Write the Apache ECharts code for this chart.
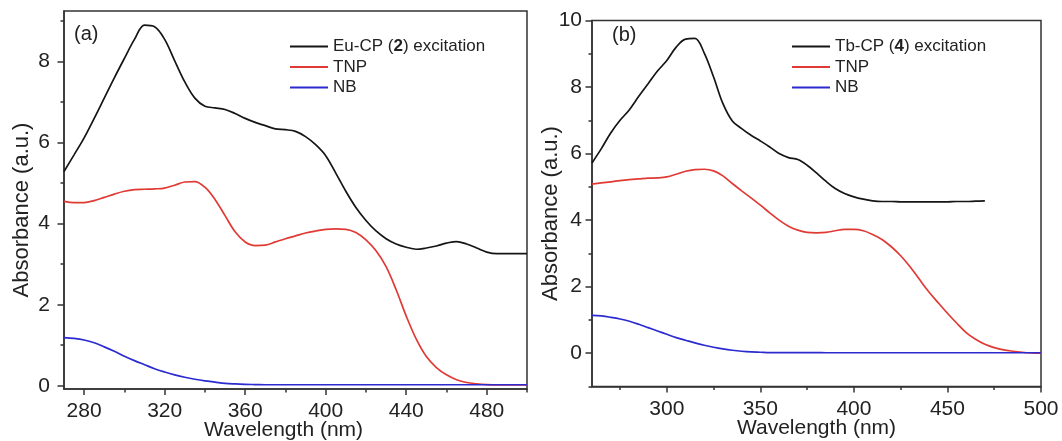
<!DOCTYPE html>
<html>
<head>
<meta charset="utf-8">
<script src="https://cdn.jsdelivr.net/npm/echarts@6/dist/echarts.min.js"></script>
<style>
html,body{margin:0;padding:0;background:#fff;}
#chart{width:1062px;height:441px;}
</style>
</head>
<body>
<div id="chart"></div>
<script>
// ---------- Panel (a) data ----------
const waveA = [270,275,280,285,290,295,300,305,310,315,320,325,330,335,340,345,350,355,360,365,370,375,380,385,390,395,400,405,410,415,420,425,430,435,440,445,450,455,460,465,470,475,480,485,490,495,500];
const euExcA = [5.29,5.70,6.12,6.60,7.10,7.60,8.08,8.55,8.90,8.86,8.55,8.02,7.50,7.10,6.90,6.86,6.82,6.72,6.60,6.50,6.42,6.34,6.32,6.28,6.15,5.95,5.68,5.25,4.80,4.40,4.08,3.82,3.63,3.50,3.42,3.37,3.40,3.45,3.52,3.56,3.50,3.40,3.30,3.26,3.26,3.26,3.26];
const tnpA = [4.55,4.52,4.52,4.57,4.65,4.73,4.80,4.84,4.85,4.86,4.88,4.95,5.03,5.04,4.90,4.60,4.20,3.80,3.55,3.46,3.47,3.55,3.63,3.70,3.77,3.82,3.86,3.87,3.86,3.78,3.60,3.33,2.94,2.37,1.72,1.15,0.72,0.45,0.27,0.15,0.08,0.05,0.03,0.02,0.02,0.02,0.02];
const nbA = [1.19,1.17,1.13,1.06,0.96,0.85,0.73,0.62,0.52,0.42,0.34,0.27,0.21,0.16,0.12,0.09,0.06,0.045,0.035,0.03,0.025,0.025,0.025,0.025,0.025,0.025,0.025,0.025,0.025,0.025,0.025,0.025,0.025,0.025,0.025,0.025,0.025,0.025,0.025,0.025,0.025,0.025,0.025,0.025,0.025,0.025,0.025];

// ---------- Panel (b) data ----------
const waveB = [260,265,270,275,280,285,290,295,300,305,310,315,320,325,330,335,340,345,350,355,360,365,370,375,380,385,390,395,400,405,410,415,420,425,430,435,440,445,450,455,460,465,470,475,480,485,490,495,500];
const waveBExc = [260,265,270,275,280,285,290,295,300,305,310,315,320,325,330,335,340,345,350,355,360,365,370,375,380,385,390,395,400,405,410,415,420,425,430,435,440,445,450,455,460,465,470];
const tbExcB = [5.72,6.15,6.62,7.00,7.32,7.72,8.10,8.48,8.80,9.20,9.44,9.46,9.02,8.30,7.50,6.98,6.75,6.55,6.38,6.20,6.00,5.88,5.82,5.65,5.42,5.17,4.95,4.80,4.70,4.63,4.58,4.56,4.56,4.55,4.55,4.55,4.55,4.55,4.55,4.56,4.56,4.57,4.58];
const tnpB = [5.08,5.12,5.15,5.19,5.22,5.24,5.26,5.27,5.30,5.38,5.47,5.52,5.53,5.48,5.33,5.10,4.88,4.67,4.45,4.22,4.00,3.82,3.70,3.63,3.62,3.63,3.68,3.72,3.72,3.68,3.57,3.42,3.20,2.93,2.60,2.22,1.85,1.52,1.20,0.90,0.62,0.42,0.27,0.17,0.10,0.06,0.03,0.01,0.00];
const nbB = [1.14,1.12,1.08,1.03,0.96,0.87,0.77,0.67,0.57,0.47,0.39,0.31,0.24,0.18,0.13,0.09,0.06,0.04,0.03,0.02,0.02,0.02,0.02,0.02,0.02,0.015,0.015,0.015,0.015,0.015,0.015,0.015,0.015,0.015,0.015,0.015,0.015,0.015,0.015,0.015,0.015,0.015,0.015,0.015,0.015,0.015,0.015,0.015,0.015];

// ---------- Tick labels ----------
const xTicksA = [280,320,360,400,440,480];
const xMinorA = [300,340,380,420,460,500];
const yTicksA = [0,2,4,6,8];
const yMinorA = [1,3,5,7,9];
const xTicksB = [300,350,400,450,500];
const xMinorB = [275,325,375,425,475];
const yTicksB = [0,2,4,6,8,10];
const yMinorB = [-1,1,3,5,7,9];

const nameA = ['Eu-CP (2) excitation','TNP','NB'];
const nameB = ['Tb-CP (4) excitation','TNP','NB'];

const FONT = '"Liberation Sans", Arial, Helvetica, sans-serif';
const AX = '#333';
const TXT = '#222';
const C_BLACK = '#151515', C_RED = '#e03a35', C_BLUE = '#2b2bd0';

const zip = (xs, ys) => xs.map((x, i) => [x, ys[i]]);

function majorX(grid, min, max, ticks, namePad) {
  return {
    gridIndex: grid, type: 'value', min: min, max: max, position: 'bottom',
    name: 'Wavelength (nm)', nameLocation: 'middle', nameGap: 31, nameMoveOverlap: false,
    nameTextStyle: {fontFamily: FONT, fontSize: 21, color: TXT, padding: namePad},
    axisLine: {show: true, onZero: false, lineStyle: {color: AX, width: 1.5}},
    axisTick: {show: true, customValues: ticks, length: 6, lineStyle: {color: AX, width: 1.5}},
    axisLabel: {customValues: ticks, fontFamily: FONT, fontSize: 21, color: TXT, margin: 12},
    splitLine: {show: false}
  };
}
function minorX(grid, min, max, ticks) {
  return {
    gridIndex: grid, type: 'value', min: min, max: max, position: 'bottom',
    axisLine: {show: false, onZero: false},
    axisTick: {show: true, customValues: ticks, length: 3.5, lineStyle: {color: AX, width: 1.5}},
    axisLabel: {show: false}, splitLine: {show: false}
  };
}
function majorY(grid, min, max, ticks, gap, margin) {
  return {
    gridIndex: grid, type: 'value', min: min, max: max, position: 'left',
    name: 'Absorbance (a.u.)', nameLocation: 'middle', nameGap: gap, nameMoveOverlap: false,
    nameTextStyle: {fontFamily: FONT, fontSize: 22, color: TXT, padding: [0, 20, 0, 0]},
    axisLine: {show: true, onZero: false, lineStyle: {color: AX, width: 1.5}},
    axisTick: {show: true, customValues: ticks, length: 6.5, lineStyle: {color: AX, width: 1.5}},
    axisLabel: {customValues: ticks, fontFamily: FONT, fontSize: 21, color: TXT, margin: margin},
    splitLine: {show: false}
  };
}
function minorY(grid, min, max, ticks) {
  return {
    gridIndex: grid, type: 'value', min: min, max: max, position: 'left',
    axisLine: {show: false, onZero: false},
    axisTick: {show: true, customValues: ticks, length: 3.5, lineStyle: {color: AX, width: 1.5}},
    axisLabel: {show: false}, splitLine: {show: false}
  };
}
function line(name, data, color, xi, yi) {
  return {
    type: 'line', name: name, data: data, xAxisIndex: xi, yAxisIndex: yi,
    symbol: 'none', smooth: 0.35, color: color,
    lineStyle: {color: color, width: 1.7}, z: 3
  };
}
function legend(left, top, names) {
  return {
    show: true, orient: 'vertical', left: left, top: top, data: names, padding: 0,
    icon: 'rect', itemWidth: 38, itemHeight: 2, itemGap: 3.5,
    formatter: function (n) {
      if (n.indexOf('(2)') >= 0) return 'Eu-CP ({b|2}) excitation';
      if (n.indexOf('(4)') >= 0) return 'Tb-CP ({b|4}) excitation';
      return n;
    },
    textStyle: {fontFamily: FONT, fontSize: 17, lineHeight: 17, color: TXT,
      rich: {b: {fontFamily: FONT, fontSize: 17, lineHeight: 17, fontWeight: 'bold', color: TXT}}},
    selectedMode: false
  };
}

const chart = echarts.init(document.getElementById('chart'), null, {renderer: 'canvas'});
chart.setOption({
  animation: false,
  backgroundColor: '#fff',
  title: [
    {text: '(a)', left: 74, top: 24, padding: 0, textStyle: {fontFamily: FONT, fontSize: 20, fontWeight: 'normal', color: TXT}},
    {text: '(b)', left: 612, top: 25.5, padding: 0, textStyle: {fontFamily: FONT, fontSize: 20, fontWeight: 'normal', color: TXT}}
  ],
  legend: [legend(290, 38, nameA), legend(792, 38, nameB)],
  grid: [
    {left: 64, top: 11, width: 463, height: 378, outerBoundsMode: 'none', containLabel: false,
     show: true, borderColor: AX, borderWidth: 1.5, backgroundColor: 'transparent'},
    {left: 592, top: 20.5, width: 449, height: 366, outerBoundsMode: 'none', containLabel: false,
     show: true, borderColor: AX, borderWidth: 1.5, backgroundColor: 'transparent'}
  ],
  xAxis: [
    majorX(0, 270, 500, xTicksA, [0, 24, 0, 0]), minorX(0, 270, 500, xMinorA),
    majorX(1, 260, 500, xTicksB, [0, 0, 0, 0]), minorX(1, 260, 500, xMinorB)
  ],
  yAxis: [
    majorY(0, -0.08, 9.25, yTicksA, 31, 14), minorY(0, -0.08, 9.25, yMinorA),
    majorY(1, -1, 10, yTicksB, 30, 10), minorY(1, -1, 10, yMinorB)
  ],
  series: [
    line(nameA[0], zip(waveA, euExcA), C_BLACK, 0, 0),
    line(nameA[1], zip(waveA, tnpA), C_RED, 0, 0),
    line(nameA[2], zip(waveA, nbA), C_BLUE, 0, 0),
    line(nameB[0], zip(waveBExc, tbExcB), C_BLACK, 2, 2),
    line(nameB[1], zip(waveB, tnpB), C_RED, 2, 2),
    line(nameB[2], zip(waveB, nbB), C_BLUE, 2, 2)
  ]
});
</script>
</body>
</html>
